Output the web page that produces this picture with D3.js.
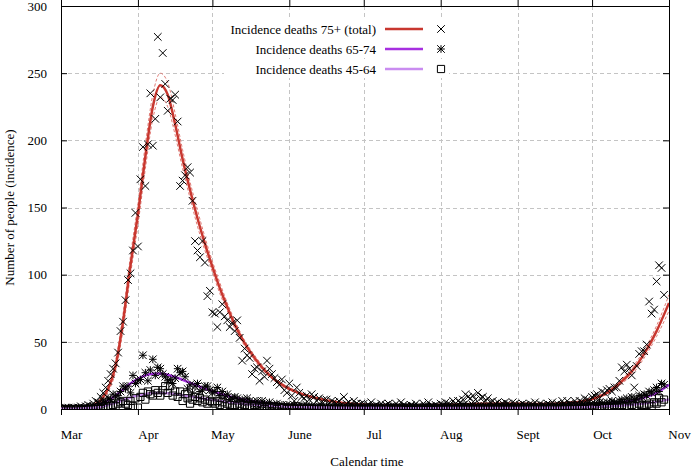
<!DOCTYPE html>
<html>
<head>
<meta charset="utf-8">
<script src="https://cdn.jsdelivr.net/npm/d3@7"></script>
<style>
  html, body { margin: 0; padding: 0; background: #fff; }
  svg { display: block; }
  svg text { font-family: "Liberation Serif", "Times New Roman", "DejaVu Serif", serif !important; fill: #000; }
</style>
</head>
<body>
<svg id="chart" width="692" height="469"></svg>
<script>
// ---------------- DATA ----------------
const startDate = "2020-03-01";
const monthTicks = ["2020-03-01","2020-04-01","2020-05-01","2020-06-01","2020-07-01","2020-08-01","2020-09-01","2020-10-01","2020-11-01"];
const monthLabels = ["Mar","Apr","May","June","Jul","Aug","Sept","Oct","Nov"];
const yTicks = [0, 50, 100, 150, 200, 250, 300];
const seriesNames = ["Incidence deaths 75+ (total)", "Incidence deaths 65-74", "Incidence deaths 45-64"];

// daily observed incidence (day 0 = 1 March)
const deaths75 = [
  0,0,1,0,0,1,0,1,2,1,
  2,3,2,4,6,5,9,12,16,21,
  26,30,34,42,58,65,81,96,101,118,
  146,121,171,195,166,197,235,196,216,277,
  232,265,242,222,231,230,234,214,166,170,
  174,180,176,155,125,118,113,125,109,84,
  88,72,71,61,72,78,69,66,61,64,
  58,66,53,36,45,40,38,26,30,31,
  21,28,24,36,30,26,23,20,18,22,
  14,12,19,10,6,16,12,9,8,10,
  7,11,9,6,8,5,7,7,4,6,
  5,4,6,3,9,4,5,3,6,4,
  3,4,4,2,3,5,2,3,1,4,
  2,3,4,1,2,4,2,5,3,2,
  1,3,2,4,2,1,4,2,5,2,
  2,3,2,4,3,5,4,3,6,4,
  6,5,7,11,9,8,10,7,12,8,
  9,6,8,5,6,4,5,3,4,5,
  4,3,5,4,2,3,4,3,2,4,
  3,5,2,4,3,2,4,3,5,3,
  4,2,6,3,6,4,3,6,4,6,
  5,8,7,6,9,10,11,8,13,12,
  14,15,13,16,16,21,31,28,33,30,
  25,16,32,41,43,43,48,80,71,74,
  95,107,105,85
];
const deaths65 = [
  0,0,0,1,0,0,0,1,0,0,
  0,1,1,2,1,4,3,6,5,8,
  7,11,9,10,13,17,15,17,12,25,
  19,21,22,40,27,21,29,37,25,31,
  30,26,24,21,22,19,23,30,27,28,
  24,15,18,12,17,19,13,14,17,17,
  14,12,13,16,10,13,9,11,7,8,
  9,8,6,7,5,8,6,5,4,6,
  3,6,4,3,5,2,3,4,2,3,
  2,3,1,2,3,1,2,2,1,3,
  1,2,1,0,2,1,1,2,0,1,
  1,0,2,1,1,0,1,2,1,0,
  1,1,0,2,1,0,1,1,2,0,
  1,0,1,2,1,1,0,1,1,2,
  0,1,2,1,0,1,1,2,1,1,
  2,1,1,0,2,1,2,1,1,2,
  1,2,3,2,1,2,3,1,2,2,
  1,2,1,1,2,0,1,2,1,1,
  2,1,1,2,1,1,0,2,1,2,
  1,2,1,1,2,2,1,3,1,2,
  2,1,3,2,2,3,1,3,2,3,
  3,2,4,3,2,4,3,5,4,3,
  5,4,6,5,4,6,7,5,8,6,
  9,7,8,10,9,11,10,13,12,14,
  16,13,19,18
];
const deaths45 = [
  0,0,0,0,0,0,0,0,0,0,
  0,0,1,0,0,1,0,1,2,1,
  2,3,2,4,5,6,4,3,6,2,
  8,1,9,12,7,13,11,10,14,12,
  10,14,17,12,17,10,13,9,13,6,
  11,8,4,7,9,6,8,5,7,4,
  6,5,4,6,3,5,2,4,3,1,
  3,2,4,1,3,2,1,2,3,1,
  2,1,0,2,1,1,2,0,1,1,
  1,0,1,1,0,2,0,1,0,1,
  0,1,0,0,1,0,1,0,0,1,
  0,1,0,1,0,0,1,0,1,0,
  1,0,0,1,0,1,0,0,1,0,
  0,1,0,0,1,0,1,0,0,1,
  0,0,1,0,1,0,0,1,0,0,
  1,0,0,1,0,1,0,0,1,0,
  0,1,0,1,1,0,1,0,0,1,
  0,1,0,0,1,0,1,0,1,0,
  1,0,0,1,0,1,0,1,0,0,
  1,0,1,0,0,1,0,1,1,0,
  0,1,1,0,1,0,2,1,0,1,
  1,0,2,1,1,2,0,1,2,1,
  2,1,1,3,2,1,3,2,2,1,
  3,2,2,4,3,2,3,4,2,5,
  4,8,5,7
];

// fitted model curves (day offsets from 1 March)
const fitDays = [0,5,10,13,16,19,22,25,28,31,34,37,40,43,46,49,52,55,58,61,64,67,70,74,78,82,86,90,95,100,110,120,130,140,150,160,170,180,190,200,205,210,215,220,225,230,235,240,245];
const fit75 = [0.3,0.6,1.3,2.8,6.5,15,32,65,107,145,188,225,241,234,212,186,163,142,123,106,90,76,63,49,38,29,22,17,12.5,9.5,5.5,3.5,2.7,2.6,2.9,3.4,3.9,4,3.8,4,4.6,5.6,8,12,19,28,41,58,79];
const fit75Upper = [0.5,0.9,1.8,3.6,8,17.5,36,71,114,153,197,234,250,243,220,193,169,148,128,110,94,79,66,51,40,30.5,23,18,13.2,10,5.9,3.8,3,2.9,3.2,3.7,4.3,4.4,4.2,4.4,5.1,6.2,8.8,13,20.5,30.5,44,62,85];
const fit75Lower = [0.1,0.3,0.8,2,5,12.5,28,59,100,137,179,216,232,225,204,179,157,136,118,102,86,73,60,47,36,27.5,21,16,11.8,9,5.1,3.2,2.4,2.3,2.6,3.1,3.5,3.6,3.4,3.6,4.1,5,7.2,11,17.5,25.5,38,54,73];
const fit65 = [0.2,0.4,1,2,3.8,6.5,10,14.5,19,22.5,25,26.3,26.5,25.5,23.8,21.7,19.5,17.3,15.2,13.2,11.4,9.8,8.4,6.9,5.6,4.6,3.8,3.2,2.6,2.2,1.6,1.3,1.2,1.1,1.15,1.2,1.3,1.35,1.4,1.6,1.9,2.3,2.9,3.7,4.8,6.3,8.5,12,18];
const fit45 = [0.1,0.2,0.5,0.9,1.6,2.9,4.6,6.6,8.5,10,11.2,11.9,12,11.7,11.1,10.3,9.4,8.5,7.6,6.7,5.9,5.2,4.5,3.8,3.2,2.7,2.3,1.9,1.6,1.3,1,0.8,0.7,0.65,0.65,0.7,0.75,0.8,0.85,1,1.15,1.35,1.65,2,2.5,3.2,4.1,5.3,7];

// ---------------- STYLE / LAYOUT ----------------
const FONT = "'Liberation Serif', 'Times New Roman', serif";
const FS = 13;
const colors = ["#c8372f", "#a62fe0", "#c98cf0"];
const W = 692, H = 469;
const m = { left: 61, right: 23, top: 6, bottom: 60 };
const pw = W - m.left - m.right, ph = H - m.top - m.bottom;

const parse = d3.timeParse("%Y-%m-%d");
const t0 = parse(startDate);
const dayDate = i => d3.timeDay.offset(t0, i);

const svg = d3.select("#chart");
const x = d3.scaleTime().domain([parse(monthTicks[0]), parse(monthTicks[monthTicks.length - 1])]).range([m.left, m.left + pw]);
const y = d3.scaleLinear().domain([0, 300]).range([m.top + ph, m.top]);

// grid
const grid = svg.append("g").attr("stroke", "#c4c4c4").attr("stroke-width", 1).attr("stroke-dasharray", "4,3");
monthTicks.slice(1, -1).forEach(t => {
  const xx = Math.round(x(parse(t))) + 0.5;
  grid.append("line").attr("x1", xx).attr("x2", xx).attr("y1", m.top).attr("y2", m.top + ph);
});
yTicks.slice(1, -1).forEach(v => {
  const yy = Math.round(y(v)) + 0.5;
  grid.append("line").attr("x1", m.left).attr("x2", m.left + pw).attr("y1", yy).attr("y2", yy);
});

// axes via d3
const tickDates = monthTicks.map(parse);
const xAxisB = d3.axisBottom(x).tickValues(tickDates).tickSize(6).tickFormat("");
const xAxisT = d3.axisTop(x).tickValues(tickDates).tickSize(6).tickFormat("");
const yAxisL = d3.axisLeft(y).tickValues(yTicks).tickSize(-6).tickFormat(d3.format("d")).tickPadding(14);
const yAxisR = d3.axisRight(y).tickValues(yTicks).tickSize(-6).tickFormat("");

const gB = svg.append("g").attr("transform", `translate(0,${m.top + ph})`).call(xAxisB);
const gT = svg.append("g").attr("transform", `translate(0,${m.top})`).call(xAxisT);
const gL = svg.append("g").attr("transform", `translate(${m.left},0)`).call(yAxisL);
const gR = svg.append("g").attr("transform", `translate(${m.left + pw},0)`).call(yAxisR);
[gB, gT, gL, gR].forEach(g => {
  g.attr("font-family", FONT);
  g.select(".domain").attr("stroke", "#000");
  g.selectAll(".tick line").attr("stroke", "#000");
});
gL.selectAll(".tick text").style("font-family", FONT).attr("font-size", FS).attr("fill", "#000");

// month labels (offset right of tick, like the original)
gB.selectAll(".tick").append("text")
  .attr("x", 10).attr("y", 30)
  .attr("text-anchor", "middle")
  .style("font-family", FONT).attr("font-size", FS).attr("fill", "#000")
  .text((d, i) => monthLabels[i]);

// axis titles
svg.append("text").attr("x", m.left + pw / 2 + 2).attr("y", 466)
  .attr("text-anchor", "middle").style("font-family", FONT).attr("font-size", FS).text("Calendar time");
svg.append("text").attr("transform", `translate(14,${m.top + ph / 2}) rotate(-90)`)
  .attr("text-anchor", "middle").style("font-family", FONT).attr("font-size", FS).text("Number of people (incidence)");

// clip
svg.append("defs").append("clipPath").attr("id", "clip")
  .append("rect").attr("x", m.left).attr("y", m.top).attr("width", pw).attr("height", ph);
const plot = svg.append("g").attr("clip-path", "url(#clip)");

const line = d3.line().x(d => x(dayDate(d[0]))).y(d => y(d[1])).curve(d3.curveMonotoneX);
const zipFit = arr => fitDays.map((d, i) => [d, arr[i]]);

// marker paths
const symX = s => `M${-s},${-s}L${s},${s}M${-s},${s}L${s},${-s}`;
const symStar = s => `M${-s},${-s}L${s},${s}M${-s},${s}L${s},${-s}M0,${-s}L0,${s}M${-s},0L${s},0`;
const symSq = s => `M${-s},${-s}H${s}V${s}H${-s}Z`;
const markers = [symX(3.8), symStar(3.8), symSq(3.6)];

function drawPoints(arr, k) {
  plot.append("g").selectAll("path").data(arr).join("path")
    .attr("transform", (v, i) => `translate(${x(dayDate(i))},${y(v)})`)
    .attr("d", markers[k]).attr("fill", "none").attr("stroke", "#000").attr("stroke-width", 1);
}

// 75+
plot.append("path").datum(zipFit(fit75Upper)).attr("d", line).attr("fill", "none")
  .attr("stroke", "#e07a74").attr("stroke-width", 1).attr("stroke-dasharray", "3,2");
plot.append("path").datum(zipFit(fit75Lower)).attr("d", line).attr("fill", "none")
  .attr("stroke", "#e07a74").attr("stroke-width", 1).attr("stroke-dasharray", "3,2");
plot.append("path").datum(zipFit(fit75)).attr("d", line).attr("fill", "none")
  .attr("stroke", colors[0]).attr("stroke-width", 2.5);
drawPoints(deaths75, 0);
// 65-74
plot.append("path").datum(zipFit(fit65)).attr("d", line).attr("fill", "none")
  .attr("stroke", colors[1]).attr("stroke-width", 2.5);
drawPoints(deaths65, 1);
// 45-64
plot.append("path").datum(zipFit(fit45)).attr("d", line).attr("fill", "none")
  .attr("stroke", colors[2]).attr("stroke-width", 2.5);
drawPoints(deaths45, 2);

// legend
const leg = svg.append("g");
seriesNames.forEach((name, i) => {
  const yy = 29 + i * 20;
  leg.append("rect").attr("x", 224).attr("y", yy - 9).attr("width", 225).attr("height", 18).attr("fill", "#fff");
});
seriesNames.forEach((name, i) => {
  const yy = 29 + i * 20;
  leg.append("text").attr("x", 376).attr("y", yy + 4.5).attr("text-anchor", "end")
    .style("font-family", FONT).attr("font-size", FS).text(name);
  leg.append("line").attr("x1", 385).attr("x2", 423).attr("y1", yy).attr("y2", yy)
    .attr("stroke", colors[i]).attr("stroke-width", 2.5);
  leg.append("path").attr("transform", `translate(441,${yy})`).attr("d", markers[i])
    .attr("fill", "none").attr("stroke", "#000").attr("stroke-width", 1);
});
</script>
</body>
</html>
